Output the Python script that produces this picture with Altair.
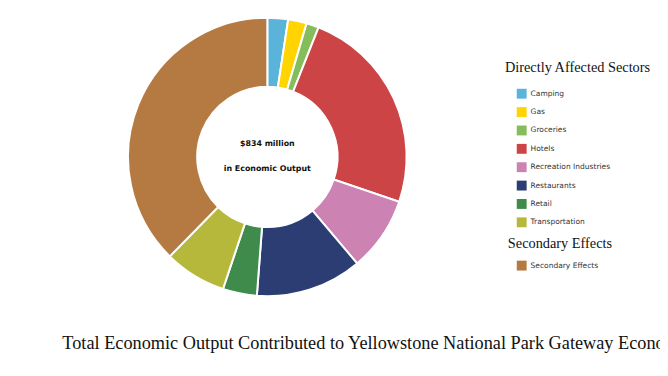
import altair as alt
import pandas as pd

# Values in $ million, read from the donut (total $834 million)
sectors = ["Camping", "Gas", "Groceries", "Hotels", "Recreation Industries",
           "Restaurants", "Retail", "Transportation", "Secondary Effects"]
groups = ["Direct"] * 8 + ["Secondary"]
values = [20, 18, 12, 202, 72, 103, 33, 60, 314]
direct_colors = ["#5ab4da", "#ffd400", "#86bd5c", "#cc4446", "#cc82b2",
                 "#2c3d74", "#3e8b4b", "#b6b83c"]
secondary_colors = ["#b57a42"]

center_lines = ["$834 million", "in Economic Output"]
chart_title = "Total Economic Output Contributed to Yellowstone National Park Gateway Economies"

df = pd.DataFrame({
    "sector": sectors,
    "group": groups,
    "value": values,
    "order": list(range(len(sectors))),
})

base = (
    alt.Chart(df)
    .transform_joinaggregate(total="sum(value)")
    .transform_stack(stack="value", groupby=[], as_=["s0", "s1"],
                     sort=[alt.SortField("order")])
    .transform_calculate(f0="datum.s0 / datum.total", f1="datum.s1 / datum.total")
)

theta_scale = alt.Scale(domain=[0, 1])

CX, CY = 262.5, 148.5
arc_kwargs = dict(outerRadius=141, innerRadius=71, stroke="white", strokeWidth=2)

direct = base.transform_filter(alt.datum.group == "Direct").mark_arc(**arc_kwargs).encode(
    x=alt.value(CX),
    y=alt.value(CY),
    theta=alt.Theta("f0:Q", scale=theta_scale),
    theta2="f1:Q",
    color=alt.Color(
        "sector:N",
        scale=alt.Scale(domain=sectors[:8], range=direct_colors),
        legend=alt.Legend(
            title="Directly Affected Sectors",
            orient="none", legendX=503, legendY=52,
            titleFont="Liberation Serif", titleFontSize=14.5, titleFontWeight="normal",
            titleColor="#111", titlePadding=13,
            labelFont="DejaVu Sans", labelFontSize=7.6, labelColor="#333",
            symbolType="square", symbolSize=100, symbolStrokeWidth=0,
            symbolOffset=12, rowPadding=8.6, labelOffset=4,
        ),
    ),
    order=alt.Order("order:Q"),
)

secondary = base.transform_filter(alt.datum.group == "Secondary").mark_arc(**arc_kwargs).encode(
    x=alt.value(CX),
    y=alt.value(CY),
    theta=alt.Theta("f0:Q", scale=theta_scale),
    theta2="f1:Q",
    fill=alt.Fill(
        "sector:N",
        scale=alt.Scale(domain=sectors[8:], range=secondary_colors),
        legend=alt.Legend(
            title="Secondary Effects",
            orient="none", legendX=506, legendY=230,
            titleFont="Liberation Serif", titleFontSize=14.5, titleFontWeight="normal",
            titleColor="#111", titlePadding=9,
            labelFont="DejaVu Sans", labelFontSize=7.6, labelColor="#333",
            symbolType="square", symbolSize=100, symbolStrokeWidth=0,
            symbolOffset=9, labelOffset=4,
        ),
    ),
)

txt1 = alt.Chart(pd.DataFrame({"t": [center_lines[0]]})).mark_text(
    font="DejaVu Sans", fontSize=8, fontWeight="bold", color="#111", baseline="middle"
).encode(x=alt.value(CX), y=alt.value(135), text="t:N")

txt2 = alt.Chart(pd.DataFrame({"t": [center_lines[1]]})).mark_text(
    font="DejaVu Sans", fontSize=8, fontWeight="bold", color="#111", baseline="middle"
).encode(x=alt.value(CX), y=alt.value(161), text="t:N")

title = alt.Chart(pd.DataFrame({"t": [chart_title]})).mark_text(
    font="Liberation Serif", fontSize=18.5, color="#111", align="left", baseline="alphabetic"
).encode(x=alt.value(55), y=alt.value(343), text="t:N")

chart = (
    alt.layer(direct, secondary, txt1, txt2, title)
    .properties(width=660, height=368, autosize=alt.AutoSizeParams(type="none"), padding=0)
    .configure_view(stroke=None)
)

chart.save("out.html", embed_options={"renderer": "svg", "actions": False})
